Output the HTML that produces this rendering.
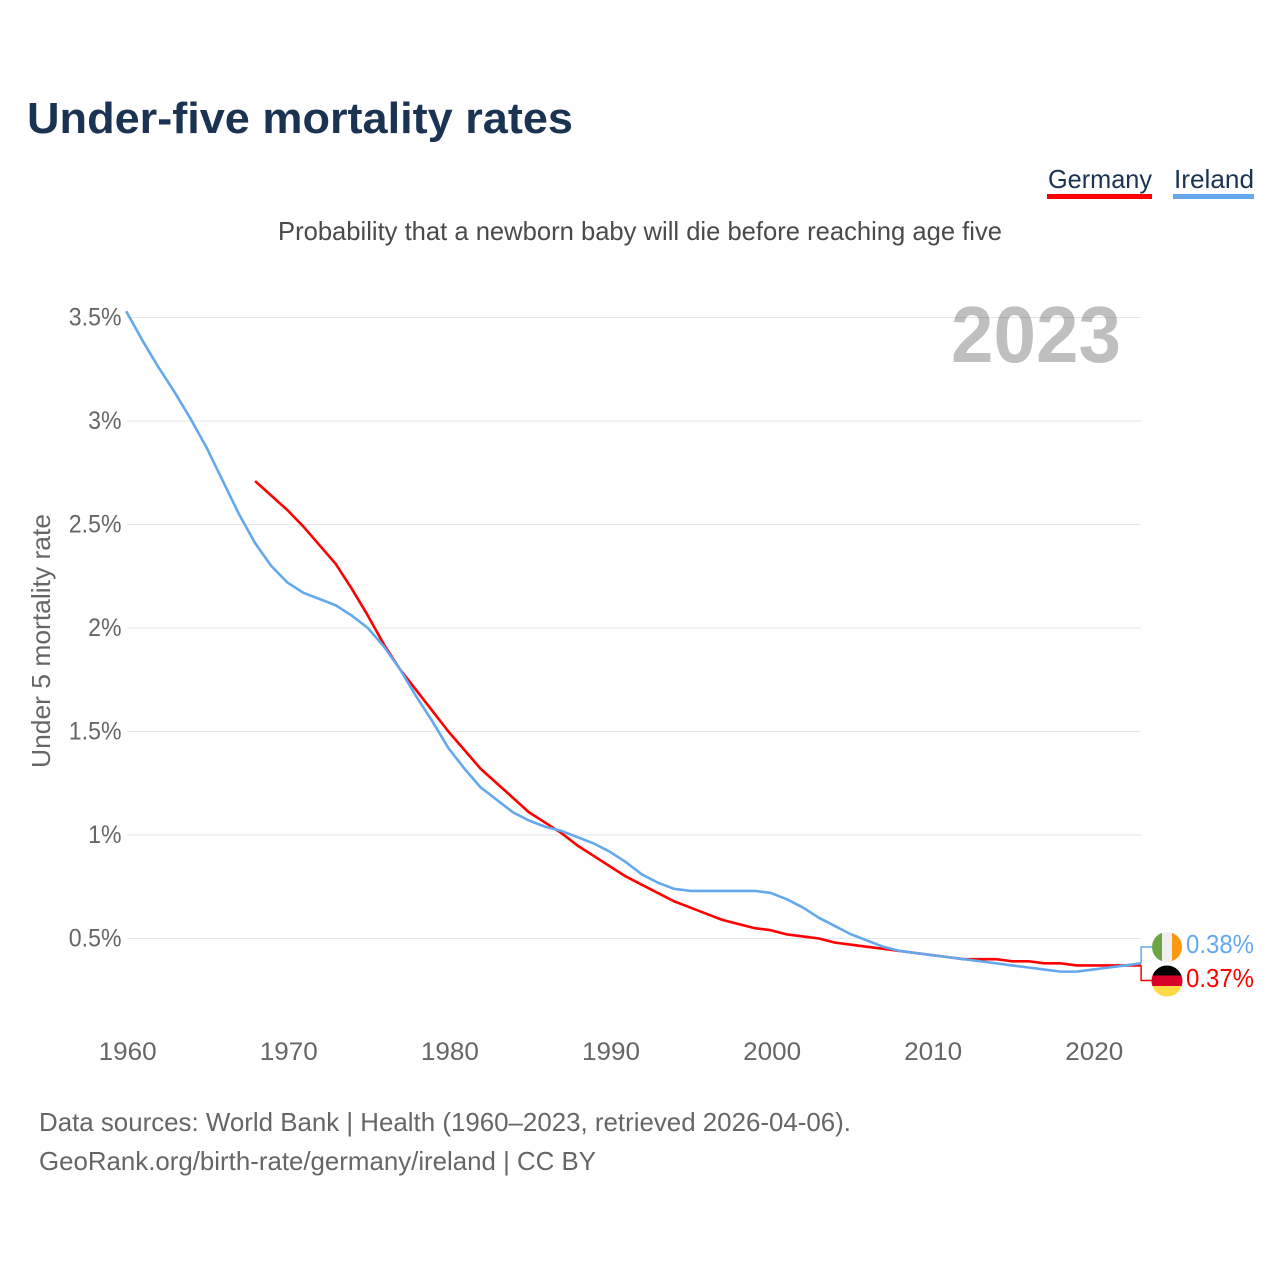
<!DOCTYPE html>
<html lang="en">
<head>
<meta charset="utf-8">
<title>Under-five mortality rates</title>
<style>
html,body{margin:0;padding:0;background:#fff;width:1280px;height:1280px;overflow:hidden}
svg{display:block}
text{font-family:"Liberation Sans",sans-serif}
</style>
</head>
<body>
<svg id="chart" xmlns="http://www.w3.org/2000/svg" width="1280" height="1280" viewBox="0 0 1280 1280">
  <defs>
    <clipPath id="flag-ie-clip"><circle cx="1167" cy="947" r="15"/></clipPath>
    <clipPath id="flag-de-clip"><circle cx="1167" cy="981" r="15.5"/></clipPath>
  </defs>
  <text x="27" y="133" font-size="44" font-weight="700" fill="#1a3352" textLength="546" lengthAdjust="spacingAndGlyphs">Under-five mortality rates</text>

  <g>
    <text x="1048" y="188" font-size="26" fill="#1a3352" textLength="104" lengthAdjust="spacingAndGlyphs">Germany</text>
    <rect x="1047" y="194" width="105" height="5" fill="#ff0000"/>
  </g>
  <g>
    <text x="1174" y="188" font-size="26" fill="#1a3352" textLength="80" lengthAdjust="spacingAndGlyphs">Ireland</text>
    <rect x="1173" y="194" width="81" height="5" fill="#64a8ee"/>
  </g>

  <text x="640" y="240" font-size="26" fill="#4a4a4a" text-anchor="middle" textLength="724" lengthAdjust="spacingAndGlyphs">Probability that a newborn baby will die before reaching age five</text>

  <g id="grid"></g>
  <g id="y-ticks"></g>
  <g id="x-ticks"></g>

  <text x="1121" y="362" font-size="80" font-weight="700" fill="#000" fill-opacity="0.25" text-anchor="end" textLength="170" lengthAdjust="spacingAndGlyphs">2023</text>

  <text transform="translate(50,641) rotate(-90)" font-size="26" fill="#666" text-anchor="middle" textLength="254" lengthAdjust="spacingAndGlyphs">Under 5 mortality rate</text>

  <g id="series"></g>
  <g id="end-connectors"></g>

  <g clip-path="url(#flag-ie-clip)">
    <rect x="1152" y="932" width="10" height="30" fill="#6da544"/>
    <rect x="1162" y="932" width="10" height="30" fill="#f0f0f0"/>
    <rect x="1172" y="932" width="10" height="30" fill="#ff9811"/>
  </g>
  <g clip-path="url(#flag-de-clip)">
    <rect x="1151" y="965" width="32" height="10.5" fill="#000"/>
    <rect x="1151" y="975.5" width="32" height="10.5" fill="#d80027"/>
    <rect x="1151" y="986" width="32" height="11" fill="#ffda44"/>
  </g>

  <text id="end-label-ireland" x="1186" y="953" font-size="26" fill="#64a8ee" textLength="68" lengthAdjust="spacingAndGlyphs"></text>
  <text id="end-label-germany" x="1186" y="987" font-size="26" fill="#ff0000" textLength="68" lengthAdjust="spacingAndGlyphs"></text>

  <text x="39" y="1131" font-size="26" fill="#666" textLength="812" lengthAdjust="spacingAndGlyphs">Data sources: World Bank | Health (1960–2023, retrieved 2026-04-06).</text>
  <text x="39" y="1170" font-size="26" fill="#666" textLength="557" lengthAdjust="spacingAndGlyphs">GeoRank.org/birth-rate/germany/ireland | CC BY</text>
</svg>
<script>
var yTickValues = [0.5, 1, 1.5, 2, 2.5, 3, 3.5];
var yTickLabels = ["0.5%", "1%", "1.5%", "2%", "2.5%", "3%", "3.5%"];
var xTickYears = [1960, 1970, 1980, 1990, 2000, 2010, 2020];
var irelandStartYear = 1960;
var irelandValues = [3.53,3.39,3.26,3.14,3.01,2.87,2.71,2.55,2.41,2.30,2.22,2.17,2.14,2.11,2.06,2.00,1.91,1.80,1.67,1.55,1.42,1.32,1.23,1.17,1.11,1.07,1.04,1.02,0.99,0.96,0.92,0.87,0.81,0.77,0.74,0.73,0.73,0.73,0.73,0.73,0.72,0.69,0.65,0.60,0.56,0.52,0.49,0.46,0.44,0.43,0.42,0.41,0.40,0.39,0.38,0.37,0.36,0.35,0.34,0.34,0.35,0.36,0.37,0.38];
var germanyStartYear = 1968;
var germanyValues = [2.71,2.64,2.57,2.49,2.40,2.31,2.19,2.06,1.92,1.80,1.70,1.60,1.50,1.41,1.32,1.25,1.18,1.11,1.06,1.01,0.95,0.90,0.85,0.80,0.76,0.72,0.68,0.65,0.62,0.59,0.57,0.55,0.54,0.52,0.51,0.50,0.48,0.47,0.46,0.45,0.44,0.43,0.42,0.41,0.40,0.40,0.40,0.39,0.39,0.38,0.38,0.37,0.37,0.37,0.37,0.37];

var SVG_NS = 'http://www.w3.org/2000/svg';
function xScale(year) { return 126.2 + (year - 1960) * 16.11; }
function yScale(v) { return 938.5 - (v - 0.5) * 207; }

function make(tag, attrs, parent) {
  var el = document.createElementNS(SVG_NS, tag);
  for (var k in attrs) el.setAttribute(k, attrs[k]);
  parent.appendChild(el);
  return el;
}
function linePoints(start, values) {
  return values.map(function (v, i) {
    return xScale(start + i).toFixed(2) + ',' + yScale(v).toFixed(2);
  }).join(' ');
}

var gridG = document.getElementById('grid');
var yG = document.getElementById('y-ticks');
yTickValues.forEach(function (v, i) {
  var gl = make('line', {x1: 127, x2: 1141, y1: yScale(v), y2: yScale(v), stroke: '#e6e6e6', 'stroke-width': 1}, gridG);
  
  
  var t = make('text', {x: 121.5, y: yScale(v) + 8, 'font-size': 25, fill: '#666', 'text-anchor': 'end'}, yG);
  t.textContent = yTickLabels[i];
  
  
  var narrowed = t.getComputedTextLength() * 0.925;
  t.setAttribute('textLength', narrowed.toFixed(1));
  t.setAttribute('lengthAdjust', 'spacingAndGlyphs');
});

var xG = document.getElementById('x-ticks');
xTickYears.forEach(function (yr) {
  var t = make('text', {x: xScale(yr) + 1.5, y: 1060, 'font-size': 25, fill: '#666', 'text-anchor': 'middle', textLength: 58, lengthAdjust: 'spacingAndGlyphs'}, xG);
  t.textContent = String(yr);
  
  
});

var sG = document.getElementById('series');
var common = {fill: 'none', 'stroke-width': 2.6, 'stroke-linejoin': 'round'};
function addLine(start, values, color) {
  var attrs = {points: linePoints(start, values), stroke: color};
  for (var k in common) attrs[k] = common[k];
  return make('polyline', attrs, sG);
}
var germanyLine = addLine(germanyStartYear, germanyValues, '#ff0000');


var irelandLine = addLine(irelandStartYear, irelandValues, '#64a8ee');



var deLast = germanyValues[germanyValues.length - 1];
var ieLast = irelandValues[irelandValues.length - 1];
var endX = xScale(germanyStartYear + germanyValues.length - 1);
var cG = document.getElementById('end-connectors');
var cDe = make('polyline', {points: endX + ',' + yScale(deLast) + ' ' + endX + ',980.5 1152,980.5', fill: 'none', stroke: '#ff0000', 'stroke-width': 1.5}, cG);


var cIe = make('polyline', {points: endX + ',' + yScale(ieLast) + ' ' + endX + ',947 1152,947', fill: 'none', stroke: '#64a8ee', 'stroke-width': 1.5}, cG);



document.getElementById('end-label-ireland').textContent = ieLast.toFixed(2) + '%';
document.getElementById('end-label-germany').textContent = deLast.toFixed(2) + '%';
</script>
</body>
</html>
